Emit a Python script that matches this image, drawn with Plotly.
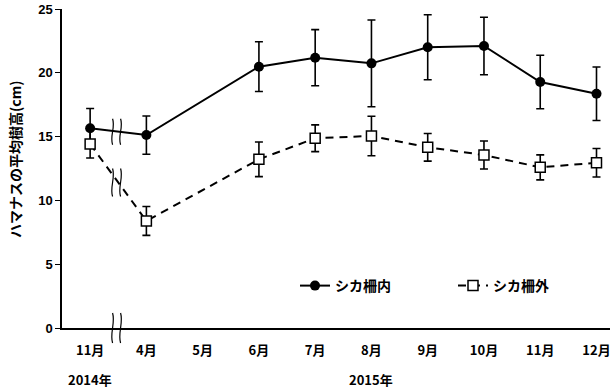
import plotly.graph_objects as go

# ---- data ----
months = ["11月", "4月", "5月", "6月", "7月", "8月", "9月", "10月", "11月", "12月"]
inside_mean = [15.65, 15.12, None, 20.48, 21.18, 20.74, 22.0, 22.1, 19.28, 18.36]
inside_err = [1.55, 1.5, None, 1.95, 2.2, 3.4, 2.55, 2.25, 2.1, 2.1]
outside_mean = [14.42, 8.39, None, 13.22, 14.87, 15.05, 14.16, 13.56, 12.59, 12.95]
outside_err = [1.1, 1.13, None, 1.36, 1.05, 1.55, 1.08, 1.1, 0.98, 1.12]
year_labels = ["2014年", "2015年"]
year_pos = [0, 5]
y_ticks = [0, 5, 10, 15, 20, 25]

xpos = list(range(len(months)))
FONT = "Noto Sans CJK JP, Arial, sans-serif"

W, H = 610, 392
ML, MR, MT, MB = 62, 0, 9, 64
XR = [-0.5, 9.24]
YR = [0, 25]
pw, ph = W - ML - MR, H - MT - MB

def px2paper_x(px):
    return (px - ML) / pw

def px2paper_y(py):
    return (H - MB - py) / ph

def data2px_x(x):
    return ML + (x - XR[0]) / (XR[1] - XR[0]) * pw

def data2px_y(y):
    return H - MB - (y - YR[0]) / (YR[1] - YR[0]) * ph

fig = go.Figure()
fig.add_trace(go.Scatter(
    x=xpos, y=inside_mean, name="シカ柵内", mode="lines+markers",
    connectgaps=True,
    line=dict(color="black", width=2),
    marker=dict(symbol="circle", size=10, color="black"),
    error_y=dict(type="data", array=inside_err, color="black", thickness=1.6, width=4),
))
fig.add_trace(go.Scatter(
    x=xpos, y=outside_mean, name="シカ柵外", mode="lines+markers",
    connectgaps=True,
    line=dict(color="black", width=2, dash="8px,6px"),
    marker=dict(symbol="square", size=10, color="white", line=dict(color="black", width=1.5)),
    error_y=dict(type="data", array=outside_err, color="black", thickness=1.6, width=4),
))

# break marks (decorative wavy pairs) drawn in paper coords
def wave(cx, ytop, ybot, amp=3.0):
    x0, x1 = px2paper_x(cx), px2paper_x(cx)
    xa, xb = px2paper_x(cx + amp), px2paper_x(cx - amp)
    y0, y1 = px2paper_y(ytop), px2paper_y(ybot)
    h = y1 - y0
    return (f"M {x0},{y0} C {xa},{y0 + h/3} {xb},{y0 + 2*h/3} {x1},{y1}")

shapes = []
bx = data2px_x(0.47)
y_mid1 = data2px_y((inside_mean[0] + inside_mean[1]) / 2)
for dx in (-4, 4):
    shapes.append(dict(type="path", xref="paper", yref="paper",
                       path=wave(bx + dx, y_mid1 - 13, y_mid1 + 13),
                       line=dict(color="black", width=1.2)))
y_mid2 = data2px_y((outside_mean[0] + outside_mean[1]) / 2)
for dx in (-4, 4):
    shapes.append(dict(type="path", xref="paper", yref="paper",
                       path=wave(bx + dx, y_mid2 - 14, y_mid2 + 14),
                       line=dict(color="black", width=1.2)))
y_ax = data2px_y(0)
for dx in (-4, 4):
    shapes.append(dict(type="path", xref="paper", yref="paper",
                       path=wave(bx + dx, y_ax - 15, y_ax + 15),
                       line=dict(color="black", width=1.2)))

annotations = [
    dict(text="ハマナスの平均樹高(cm)", xref="paper", yref="paper",
         x=px2paper_x(15), y=px2paper_y(160), textangle=-90, showarrow=False,
         font=dict(family=FONT, size=14, color="black", weight="bold"),
         xanchor="center", yanchor="middle"),
]
for lab, p in zip(year_labels, year_pos):
    annotations.append(dict(text=lab, xref="x", yref="paper", x=p, y=px2paper_y(379),
                            showarrow=False, xanchor="center", yanchor="middle",
                            font=dict(family=FONT, size=13, color="black", weight="bold")))

fig.update_layout(
    width=W, height=H,
    margin=dict(l=ML, r=MR, t=MT, b=MB, autoexpand=False),
    paper_bgcolor="white", plot_bgcolor="white",
    showlegend=True,
    legend=dict(orientation="h", x=px2paper_x(295), y=px2paper_y(286),
                xanchor="left", yanchor="middle", entrywidth=113,
                font=dict(family=FONT, size=14, color="black", weight="bold"),
                bgcolor="rgba(0,0,0,0)", itemwidth=30),
    xaxis=dict(range=XR, tickmode="array", tickvals=xpos, ticktext=months,
               showline=True, linecolor="black", linewidth=1.5, ticks="",
               ticklabelstandoff=10, automargin=False, ticklabeloverflow="allow",
               showgrid=False, zeroline=False,
               tickfont=dict(family=FONT, size=13, color="black", weight="bold")),
    yaxis=dict(range=YR, tickmode="array", tickvals=y_ticks,
               showline=True, linecolor="black", linewidth=1.5,
               ticks="outside", ticklen=5, tickcolor="black", automargin=False,
               showgrid=False, zeroline=False,
               tickfont=dict(family="Arial, Liberation Sans, sans-serif", size=13, color="black", weight="bold")),
    shapes=shapes,
    annotations=annotations,
)

fig.write_html("out.html")
